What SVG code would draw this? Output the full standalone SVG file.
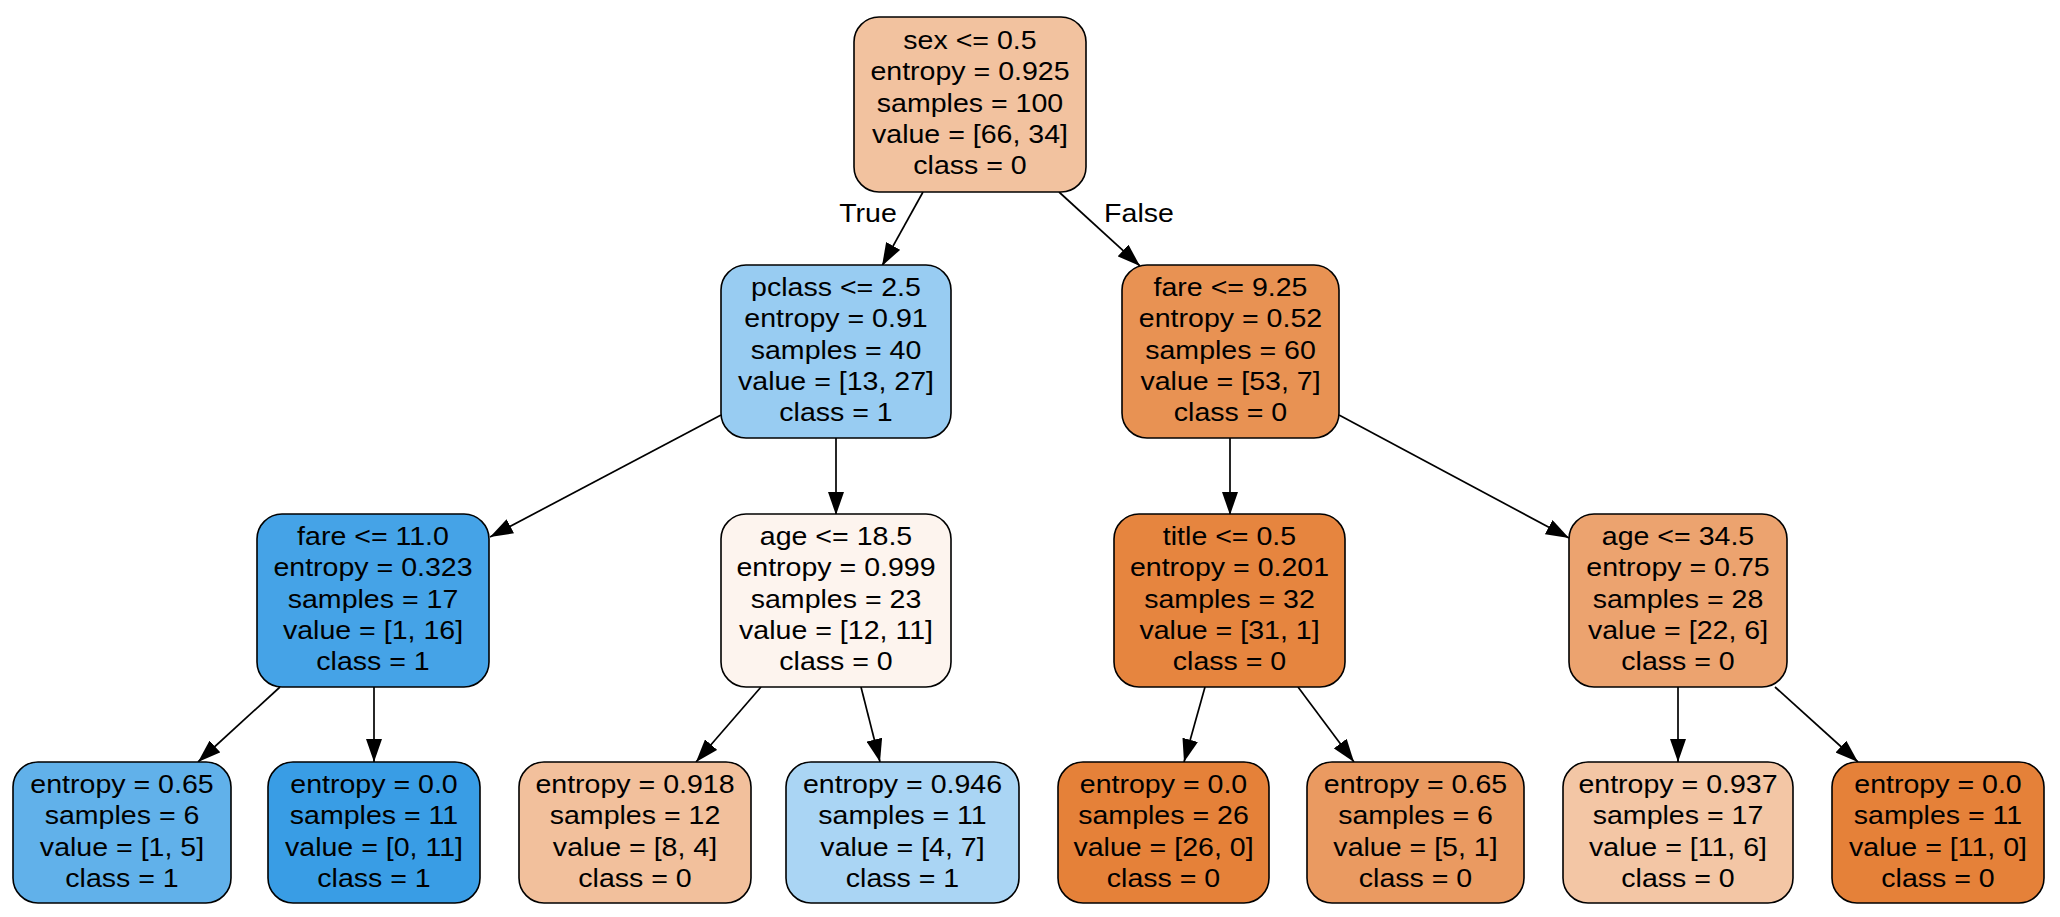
<svg xmlns="http://www.w3.org/2000/svg" width="2060" height="917" viewBox="0 0 2060 917">
<style>
.box{stroke:#000;stroke-width:1.6}
.t{font-family:"Liberation Sans",Arial,sans-serif;font-size:25.5px;fill:#000;text-anchor:middle}
.e{stroke:#000;stroke-width:1.7;fill:none;marker-end:url(#ah)}
</style>
<defs>
<marker id="ah" markerUnits="userSpaceOnUse" markerWidth="23" markerHeight="16" viewBox="0 0 23 16" refX="23" refY="8" orient="auto">
<path d="M0,0 L23,8 L0,16 z" fill="#000"/>
</marker>
</defs>
<rect width="2060" height="917" fill="#fff"/>
<g id="connectors">
<line class="e" x1="923" y1="192" x2="882" y2="266"/>
<line class="e" x1="1059" y1="192" x2="1140" y2="266"/>
<line class="e" x1="721" y1="415" x2="490" y2="537"/>
<line class="e" x1="836" y1="438" x2="836" y2="515"/>
<line class="e" x1="1230" y1="438" x2="1230" y2="515"/>
<line class="e" x1="1339" y1="415" x2="1569" y2="538"/>
<line class="e" x1="280" y1="687" x2="198" y2="762"/>
<line class="e" x1="374" y1="687" x2="374" y2="762"/>
<line class="e" x1="761" y1="687" x2="696" y2="762"/>
<line class="e" x1="861" y1="687" x2="880" y2="762"/>
<line class="e" x1="1205" y1="687" x2="1184" y2="762"/>
<line class="e" x1="1298" y1="687" x2="1354" y2="762"/>
<line class="e" x1="1678" y1="687" x2="1678" y2="762"/>
<line class="e" x1="1775" y1="687" x2="1858" y2="762"/>
<g transform="translate(868,0) scale(1.12,1)"><text class="t" x="0" y="222">True</text></g>
<g transform="translate(1139,0) scale(1.12,1)"><text class="t" x="0" y="222">False</text></g>
</g>
<g id="n0">
<rect class="box" x="854" y="17" width="232" height="175" rx="25" fill="#f2c29f"/>
<g transform="translate(970,0) scale(1.12,1)">
<text class="t" x="0" y="49">sex &lt;= 0.5</text>
<text class="t" x="0" y="80">entropy = 0.925</text>
<text class="t" x="0" y="112">samples = 100</text>
<text class="t" x="0" y="143">value = [66, 34]</text>
<text class="t" x="0" y="174">class = 0</text>
</g>
</g>
<g id="n1">
<rect class="box" x="721" y="265" width="230" height="173" rx="25" fill="#98ccf2"/>
<g transform="translate(836,0) scale(1.12,1)">
<text class="t" x="0" y="296">pclass &lt;= 2.5</text>
<text class="t" x="0" y="327">entropy = 0.91</text>
<text class="t" x="0" y="359">samples = 40</text>
<text class="t" x="0" y="390">value = [13, 27]</text>
<text class="t" x="0" y="421">class = 1</text>
</g>
</g>
<g id="n8">
<rect class="box" x="1122" y="265" width="217" height="173" rx="25" fill="#e89253"/>
<g transform="translate(1230.5,0) scale(1.12,1)">
<text class="t" x="0" y="296">fare &lt;= 9.25</text>
<text class="t" x="0" y="327">entropy = 0.52</text>
<text class="t" x="0" y="359">samples = 60</text>
<text class="t" x="0" y="390">value = [53, 7]</text>
<text class="t" x="0" y="421">class = 0</text>
</g>
</g>
<g id="n2">
<rect class="box" x="257" y="514" width="232" height="173" rx="25" fill="#45a3e7"/>
<g transform="translate(373,0) scale(1.12,1)">
<text class="t" x="0" y="545">fare &lt;= 11.0</text>
<text class="t" x="0" y="576">entropy = 0.323</text>
<text class="t" x="0" y="608">samples = 17</text>
<text class="t" x="0" y="639">value = [1, 16]</text>
<text class="t" x="0" y="670">class = 1</text>
</g>
</g>
<g id="n5">
<rect class="box" x="721" y="514" width="230" height="173" rx="25" fill="#fdf4ee"/>
<g transform="translate(836,0) scale(1.12,1)">
<text class="t" x="0" y="545">age &lt;= 18.5</text>
<text class="t" x="0" y="576">entropy = 0.999</text>
<text class="t" x="0" y="608">samples = 23</text>
<text class="t" x="0" y="639">value = [12, 11]</text>
<text class="t" x="0" y="670">class = 0</text>
</g>
</g>
<g id="n9">
<rect class="box" x="1114" y="514" width="231" height="173" rx="25" fill="#e6853f"/>
<g transform="translate(1229.5,0) scale(1.12,1)">
<text class="t" x="0" y="545">title &lt;= 0.5</text>
<text class="t" x="0" y="576">entropy = 0.201</text>
<text class="t" x="0" y="608">samples = 32</text>
<text class="t" x="0" y="639">value = [31, 1]</text>
<text class="t" x="0" y="670">class = 0</text>
</g>
</g>
<g id="n12">
<rect class="box" x="1569" y="514" width="218" height="173" rx="25" fill="#eca36f"/>
<g transform="translate(1678,0) scale(1.12,1)">
<text class="t" x="0" y="545">age &lt;= 34.5</text>
<text class="t" x="0" y="576">entropy = 0.75</text>
<text class="t" x="0" y="608">samples = 28</text>
<text class="t" x="0" y="639">value = [22, 6]</text>
<text class="t" x="0" y="670">class = 0</text>
</g>
</g>
<g id="n3">
<rect class="box" x="13" y="762" width="218" height="141" rx="25" fill="#61b1ea"/>
<g transform="translate(122,0) scale(1.12,1)">
<text class="t" x="0" y="793">entropy = 0.65</text>
<text class="t" x="0" y="824">samples = 6</text>
<text class="t" x="0" y="856">value = [1, 5]</text>
<text class="t" x="0" y="887">class = 1</text>
</g>
</g>
<g id="n4">
<rect class="box" x="268" y="762" width="212" height="141" rx="25" fill="#399de5"/>
<g transform="translate(374,0) scale(1.12,1)">
<text class="t" x="0" y="793">entropy = 0.0</text>
<text class="t" x="0" y="824">samples = 11</text>
<text class="t" x="0" y="856">value = [0, 11]</text>
<text class="t" x="0" y="887">class = 1</text>
</g>
</g>
<g id="n6">
<rect class="box" x="519" y="762" width="232" height="141" rx="25" fill="#f2c09c"/>
<g transform="translate(635,0) scale(1.12,1)">
<text class="t" x="0" y="793">entropy = 0.918</text>
<text class="t" x="0" y="824">samples = 12</text>
<text class="t" x="0" y="856">value = [8, 4]</text>
<text class="t" x="0" y="887">class = 0</text>
</g>
</g>
<g id="n7">
<rect class="box" x="786" y="762" width="233" height="141" rx="25" fill="#aad5f4"/>
<g transform="translate(902.5,0) scale(1.12,1)">
<text class="t" x="0" y="793">entropy = 0.946</text>
<text class="t" x="0" y="824">samples = 11</text>
<text class="t" x="0" y="856">value = [4, 7]</text>
<text class="t" x="0" y="887">class = 1</text>
</g>
</g>
<g id="n10">
<rect class="box" x="1058" y="762" width="211" height="141" rx="25" fill="#e58139"/>
<g transform="translate(1163.5,0) scale(1.12,1)">
<text class="t" x="0" y="793">entropy = 0.0</text>
<text class="t" x="0" y="824">samples = 26</text>
<text class="t" x="0" y="856">value = [26, 0]</text>
<text class="t" x="0" y="887">class = 0</text>
</g>
</g>
<g id="n11">
<rect class="box" x="1307" y="762" width="217" height="141" rx="25" fill="#ea9a61"/>
<g transform="translate(1415.5,0) scale(1.12,1)">
<text class="t" x="0" y="793">entropy = 0.65</text>
<text class="t" x="0" y="824">samples = 6</text>
<text class="t" x="0" y="856">value = [5, 1]</text>
<text class="t" x="0" y="887">class = 0</text>
</g>
</g>
<g id="n13">
<rect class="box" x="1563" y="762" width="230" height="141" rx="25" fill="#f3c6a5"/>
<g transform="translate(1678,0) scale(1.12,1)">
<text class="t" x="0" y="793">entropy = 0.937</text>
<text class="t" x="0" y="824">samples = 17</text>
<text class="t" x="0" y="856">value = [11, 6]</text>
<text class="t" x="0" y="887">class = 0</text>
</g>
</g>
<g id="n14">
<rect class="box" x="1832" y="762" width="212" height="141" rx="25" fill="#e58139"/>
<g transform="translate(1938,0) scale(1.12,1)">
<text class="t" x="0" y="793">entropy = 0.0</text>
<text class="t" x="0" y="824">samples = 11</text>
<text class="t" x="0" y="856">value = [11, 0]</text>
<text class="t" x="0" y="887">class = 0</text>
</g>
</g>
</svg>
